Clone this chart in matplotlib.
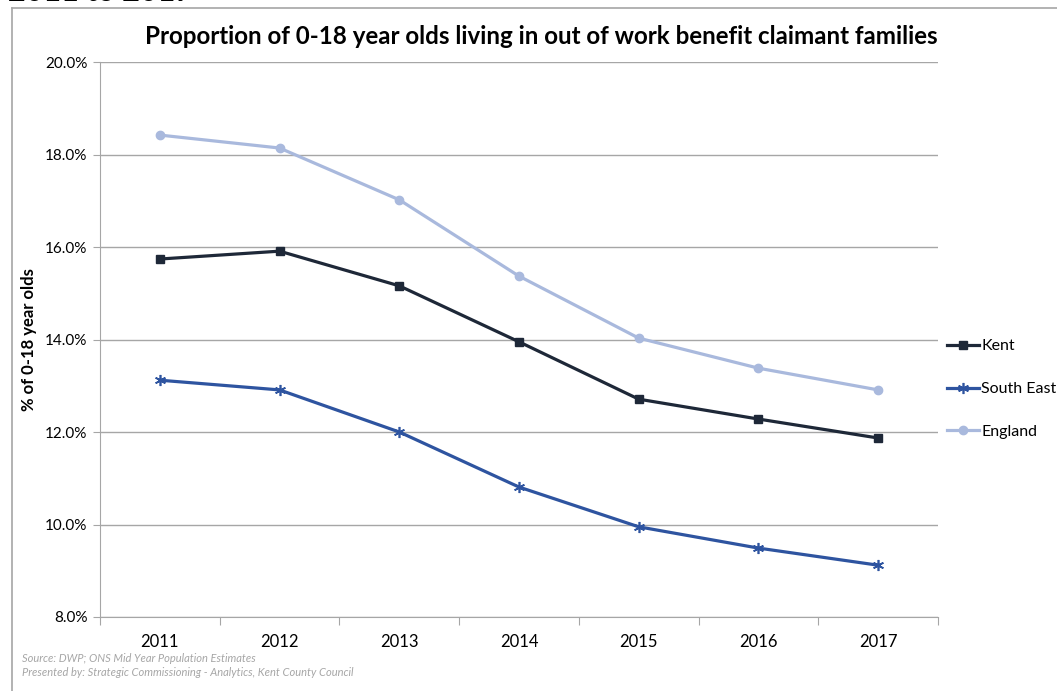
import matplotlib
matplotlib.use("Agg")
import matplotlib.pyplot as plt
from matplotlib.lines import Line2D

years = ["2011", "2012", "2013", "2014", "2015", "2016", "2017"]
kent = [15.74, 15.91, 15.16, 13.95, 12.71, 12.28, 11.87]
south_east = [13.12, 12.91, 12.00, 10.81, 9.95, 9.49, 9.12]
england = [18.42, 18.14, 17.02, 15.37, 14.03, 13.38, 12.91]
y_ticks = [8, 10, 12, 14, 16, 18, 20]

plt.rcParams['font.family'] = ['Lato', 'DejaVu Sans']

KENT_C = '#1E2838'
SE_C = '#2E54A0'
ENG_C = '#A9B9DD'
STAR = (6, 2, 0)  # asterisk marker

W, H = 1057, 691
fig = plt.figure(figsize=(W / 100, H / 100), dpi=100)
ax = fig.add_axes([100 / W, 1 - 617 / H, 838 / W, 555 / H])

x = range(len(years))
ax.plot(x, england, color=ENG_C, lw=2.3, marker='o', ms=6, label='England', zorder=3)
ax.plot(x, kent, color=KENT_C, lw=2.3, marker='s', ms=6, label='Kent', zorder=4)
ax.plot(x, south_east, color=SE_C, lw=2.3, marker=STAR, ms=8, mew=1.2, label='South East', zorder=4)

ax.set_xlim(-0.5, len(years) - 0.5)
ax.set_ylim(8, 20)
ax.set_yticks(y_ticks)
ax.set_yticklabels([f"{v:.1f}%" for v in y_ticks], fontsize=11)
ax.yaxis.grid(True, color='#A6A6A6', lw=1)
ax.set_axisbelow(True)

# category ticks fall between the years
ax.set_xticks([i - 0.5 for i in range(len(years) + 1)])
ax.set_xticklabels([])
ax.set_xticks(list(x), minor=True)
ax.set_xticklabels(years, minor=True, fontsize=12)
ax.tick_params(axis='x', which='major', length=6, color='#A6A6A6', direction='out')
ax.tick_params(axis='x', which='minor', length=0, pad=12)
ax.tick_params(axis='y', length=5, color='#A6A6A6', pad=4)

for s in ['top', 'right']:
    ax.spines[s].set_visible(False)
ax.spines['left'].set_color('#A6A6A6')
ax.spines['bottom'].set_color('#A6A6A6')

ax.set_ylabel('% of 0-18 year olds', fontsize=12, fontweight='bold', labelpad=6)

fig.text(541 / W, 1 - 37 / H, 'Proportion of 0-18 year olds living in out of work benefit claimant families',
         ha='center', va='center', fontsize=17.4, fontweight='bold')

handles = [Line2D([], [], color=KENT_C, lw=2.3, marker='s', ms=6),
           Line2D([], [], color=SE_C, lw=2.3, marker=STAR, ms=8, mew=1.2),
           Line2D([], [], color=ENG_C, lw=2.3, marker='o', ms=6)]
fig.legend(handles, ['Kent', 'South East', 'England'], loc='center left',
           bbox_to_anchor=(947 / W, 1 - 389 / H), frameon=False, fontsize=11.5,
           borderaxespad=0, borderpad=0,
           handlelength=2.0, handletextpad=0.15, labelspacing=1.8)

fig.text(22 / W, 1 - 659 / H, 'Source: DWP; ONS Mid Year Population Estimates',
         fontsize=8, style='italic', color='#A6A6A6', va='center')
fig.text(22 / W, 1 - 672 / H, 'Presented by: Strategic Commissioning - Analytics, Kent County Council',
         fontsize=8, style='italic', color='#A6A6A6', va='center')

# page heading above the chart box, mostly cut off by the top edge
fig.text(8 / W, 1 - 1 / H, '2011 to 2017', fontsize=22, fontweight='bold', va='baseline')

# chart box outline
fig.add_artist(Line2D([12 / W, 12 / W], [0, 1 - 8 / H], color='#A6A6A6', lw=1.2))
fig.add_artist(Line2D([12 / W, 1], [1 - 8 / H, 1 - 8 / H], color='#A6A6A6', lw=1.2))

fig.savefig('out.png', dpi=100)
